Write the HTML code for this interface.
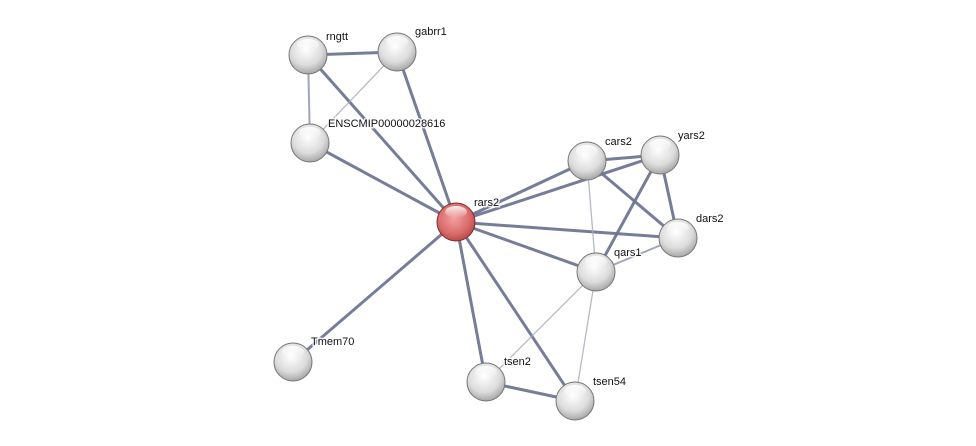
<!DOCTYPE html>
<html><head><meta charset="utf-8"><style>
html,body{margin:0;padding:0;background:#fff;}
svg{display:block;}
text{font-family:"Liberation Sans",sans-serif;font-size:11px;fill:#111;stroke:#fff;stroke-width:3px;stroke-opacity:0.8;paint-order:stroke;}
</style></head><body>
<svg width="976" height="446" viewBox="0 0 976 446" xmlns="http://www.w3.org/2000/svg">
<defs>
<radialGradient id="g" cx="0.45" cy="0.35" r="0.7">
<stop offset="0" stop-color="#ffffff"/><stop offset="0.6" stop-color="#dcdcdc"/><stop offset="1" stop-color="#9c9c9c"/>
</radialGradient>
<radialGradient id="r" cx="0.45" cy="0.4" r="0.7">
<stop offset="0" stop-color="#f4a0a0"/><stop offset="0.6" stop-color="#d96a6a"/><stop offset="1" stop-color="#a83a3a"/>
</radialGradient>
<linearGradient id="hl" x1="0" y1="0" x2="0" y2="1">
<stop offset="0" stop-color="#fff" stop-opacity="0.9"/><stop offset="1" stop-color="#fff" stop-opacity="0"/>
</linearGradient>
</defs>
<g stroke="#6f7692" stroke-width="3" stroke-opacity="0.95" stroke-linecap="round">
<line x1="308" y1="55" x2="397" y2="52"/>
<line x1="308" y1="55" x2="456" y2="222"/>
<line x1="397" y1="52" x2="456" y2="222"/>
<line x1="310" y1="143" x2="456" y2="222"/>
<line x1="456" y1="222" x2="587" y2="161"/>
<line x1="456" y1="222" x2="660" y2="155"/>
<line x1="456" y1="222" x2="678" y2="238"/>
<line x1="456" y1="222" x2="596" y2="272"/>
<line x1="456" y1="222" x2="293" y2="362"/>
<line x1="456" y1="222" x2="486" y2="382"/>
<line x1="456" y1="222" x2="575" y2="401"/>
<line x1="587" y1="161" x2="660" y2="155"/>
<line x1="587" y1="161" x2="678" y2="238"/>
<line x1="660" y1="155" x2="596" y2="272"/>
<line x1="660" y1="155" x2="678" y2="238"/>
<line x1="486" y1="382" x2="575" y2="401"/>
</g>
<g stroke="#8a90a8" stroke-width="2" stroke-opacity="0.8">
<line x1="308" y1="55" x2="310" y2="143"/>
<line x1="596" y1="272" x2="678" y2="238"/>
</g>
<g stroke="#a8adc0" stroke-width="1.3" stroke-opacity="0.85">
<line x1="397" y1="52" x2="310" y2="143"/>
<line x1="587" y1="161" x2="596" y2="272"/>
<line x1="596" y1="272" x2="486" y2="382"/>
<line x1="596" y1="272" x2="575" y2="401"/>
</g>
<g stroke="#777" stroke-width="1">
<circle cx="308" cy="55" r="19" fill="url(#g)"/>
<circle cx="397" cy="52" r="19" fill="url(#g)"/>
<circle cx="310" cy="143" r="19" fill="url(#g)"/>
<circle cx="587" cy="161" r="19" fill="url(#g)"/>
<circle cx="660" cy="155" r="19" fill="url(#g)"/>
<circle cx="678" cy="238" r="19" fill="url(#g)"/>
<circle cx="596" cy="272" r="19" fill="url(#g)"/>
<circle cx="293" cy="362" r="19" fill="url(#g)"/>
<circle cx="486" cy="382" r="19" fill="url(#g)"/>
<circle cx="575" cy="401" r="19" fill="url(#g)"/>
<circle cx="456" cy="222" r="19" fill="url(#r)" stroke="#7a3030"/>
</g>
<g fill="url(#hl)">
<ellipse cx="308" cy="45" rx="11" ry="6"/>
<ellipse cx="397" cy="42" rx="11" ry="6"/>
<ellipse cx="310" cy="133" rx="11" ry="6"/>
<ellipse cx="587" cy="151" rx="11" ry="6"/>
<ellipse cx="660" cy="145" rx="11" ry="6"/>
<ellipse cx="678" cy="228" rx="11" ry="6"/>
<ellipse cx="596" cy="262" rx="11" ry="6"/>
<ellipse cx="293" cy="352" rx="11" ry="6"/>
<ellipse cx="486" cy="372" rx="11" ry="6"/>
<ellipse cx="575" cy="391" rx="11" ry="6"/>
<ellipse cx="456" cy="212" rx="11" ry="6"/>
</g>
<text x="326" y="40">rngtt</text>
<text x="415" y="35">gabrr1</text>
<text x="328" y="127">ENSCMIP00000028616</text>
<text x="474" y="206">rars2</text>
<text x="605" y="145">cars2</text>
<text x="678" y="139">yars2</text>
<text x="696" y="222">dars2</text>
<text x="614" y="256">qars1</text>
<text x="311" y="345">Tmem70</text>
<text x="504" y="365">tsen2</text>
<text x="593" y="385">tsen54</text>
</svg>
</body></html>
